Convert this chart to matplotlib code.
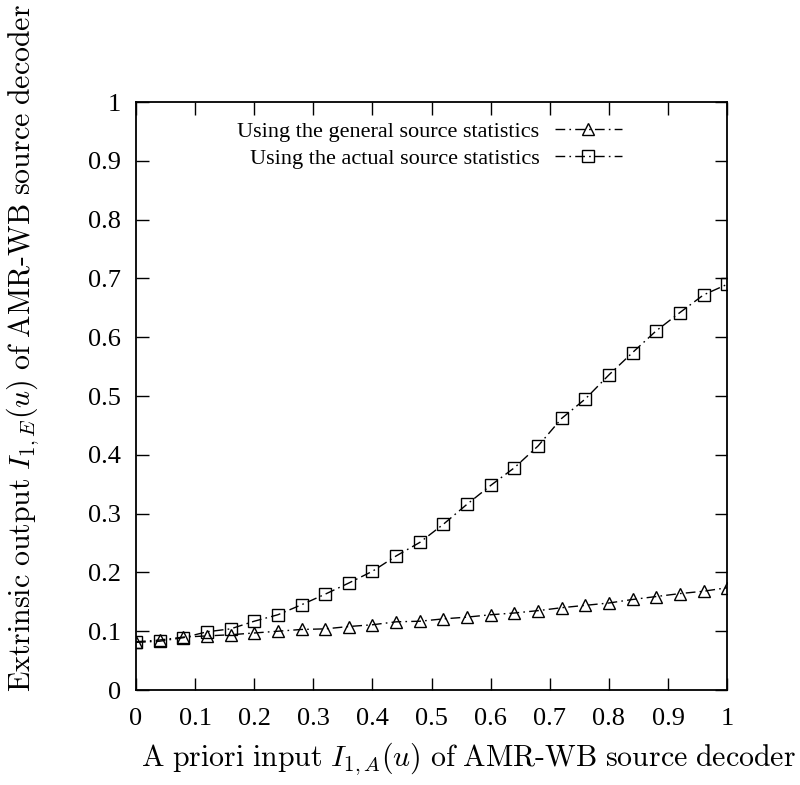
import numpy as np
import matplotlib
matplotlib.use("Agg")
import matplotlib.pyplot as plt

# a priori input values (x axis)
x_vals = [0.00, 0.04, 0.08, 0.12, 0.16, 0.20, 0.24, 0.28, 0.32, 0.36, 0.40, 0.44, 0.48,
          0.52, 0.56, 0.60, 0.64, 0.68, 0.72, 0.76, 0.80, 0.84, 0.88, 0.92, 0.96, 1.00]

# extrinsic output, general source statistics (triangles)
general_stats = [0.082, 0.085, 0.090, 0.092, 0.094, 0.097, 0.100, 0.103, 0.104, 0.108, 0.111,
                 0.116, 0.117, 0.121, 0.124, 0.128, 0.131, 0.135, 0.140, 0.144, 0.148,
                 0.154, 0.159, 0.164, 0.168, 0.174]

# extrinsic output, actual source statistics (squares)
actual_stats = [0.081, 0.083, 0.089, 0.099, 0.104, 0.117, 0.128, 0.145, 0.163, 0.182, 0.202,
                0.228, 0.251, 0.282, 0.316, 0.348, 0.378, 0.415, 0.462, 0.495, 0.536,
                0.574, 0.611, 0.642, 0.672, 0.690]

labels = ["Using the general source statistics", "Using the actual source statistics"]
tick_labels = ['0', '0.1', '0.2', '0.3', '0.4', '0.5', '0.6', '0.7', '0.8', '0.9', '1']

plt.rcParams['font.family'] = ['Liberation Serif', 'DejaVu Serif']
plt.rcParams['mathtext.fontset'] = 'cm'

fig = plt.figure(figsize=(8, 7.85), dpi=100)
ax = fig.add_axes([0.17, 0.121, 0.739, 0.749])

dash = (0, (7, 3, 1.2, 3))
ax.plot(x_vals, general_stats, color='black', lw=1.0, linestyle=dash,
        marker='^', markersize=8, markerfacecolor='none', markeredgewidth=1.0,
        label=labels[0])
ax.plot(x_vals, actual_stats, color='black', lw=1.0, linestyle=dash,
        marker='s', markersize=8, markerfacecolor='none', markeredgewidth=1.0,
        label=labels[1])

ax.set_xlim(0, 1)
ax.set_ylim(0, 1)
ax.set_xticks(np.arange(0, 1.01, 0.1))
ax.set_yticks(np.arange(0, 1.01, 0.1))
ax.set_xticklabels(tick_labels)
ax.set_yticklabels(tick_labels)
ax.tick_params(direction='in', length=9, width=1.0, top=True, right=True, labelsize=19)
ax.tick_params(axis='x', pad=13)
ax.tick_params(axis='y', pad=11)
for s in ax.spines.values():
    s.set_linewidth(1.3)

ax.set_xlabel(r'$\mathrm{A\ priori\ input}\ I_{1,A}(u)\ \mathrm{of\ AMR\text{-}WB\ source\ decoder}$',
              fontsize=21.5)
ax.set_ylabel(r'$\mathrm{Extrinsic\ output}\ I_{1,E}(u)\ \mathrm{of\ AMR\text{-}WB\ source\ decoder}$',
              fontsize=21.5)
ax.xaxis.set_label_coords(0.563, -0.085)
ax.yaxis.set_label_coords(-0.16, 0.582)

ax.legend(loc='upper right', bbox_to_anchor=(0.844, 0.99), frameon=False, markerfirst=False,
          fontsize=16, handlelength=3.0, handletextpad=0.7, labelspacing=0.28,
          borderaxespad=0.2)

fig.savefig('out.png', dpi=100)
